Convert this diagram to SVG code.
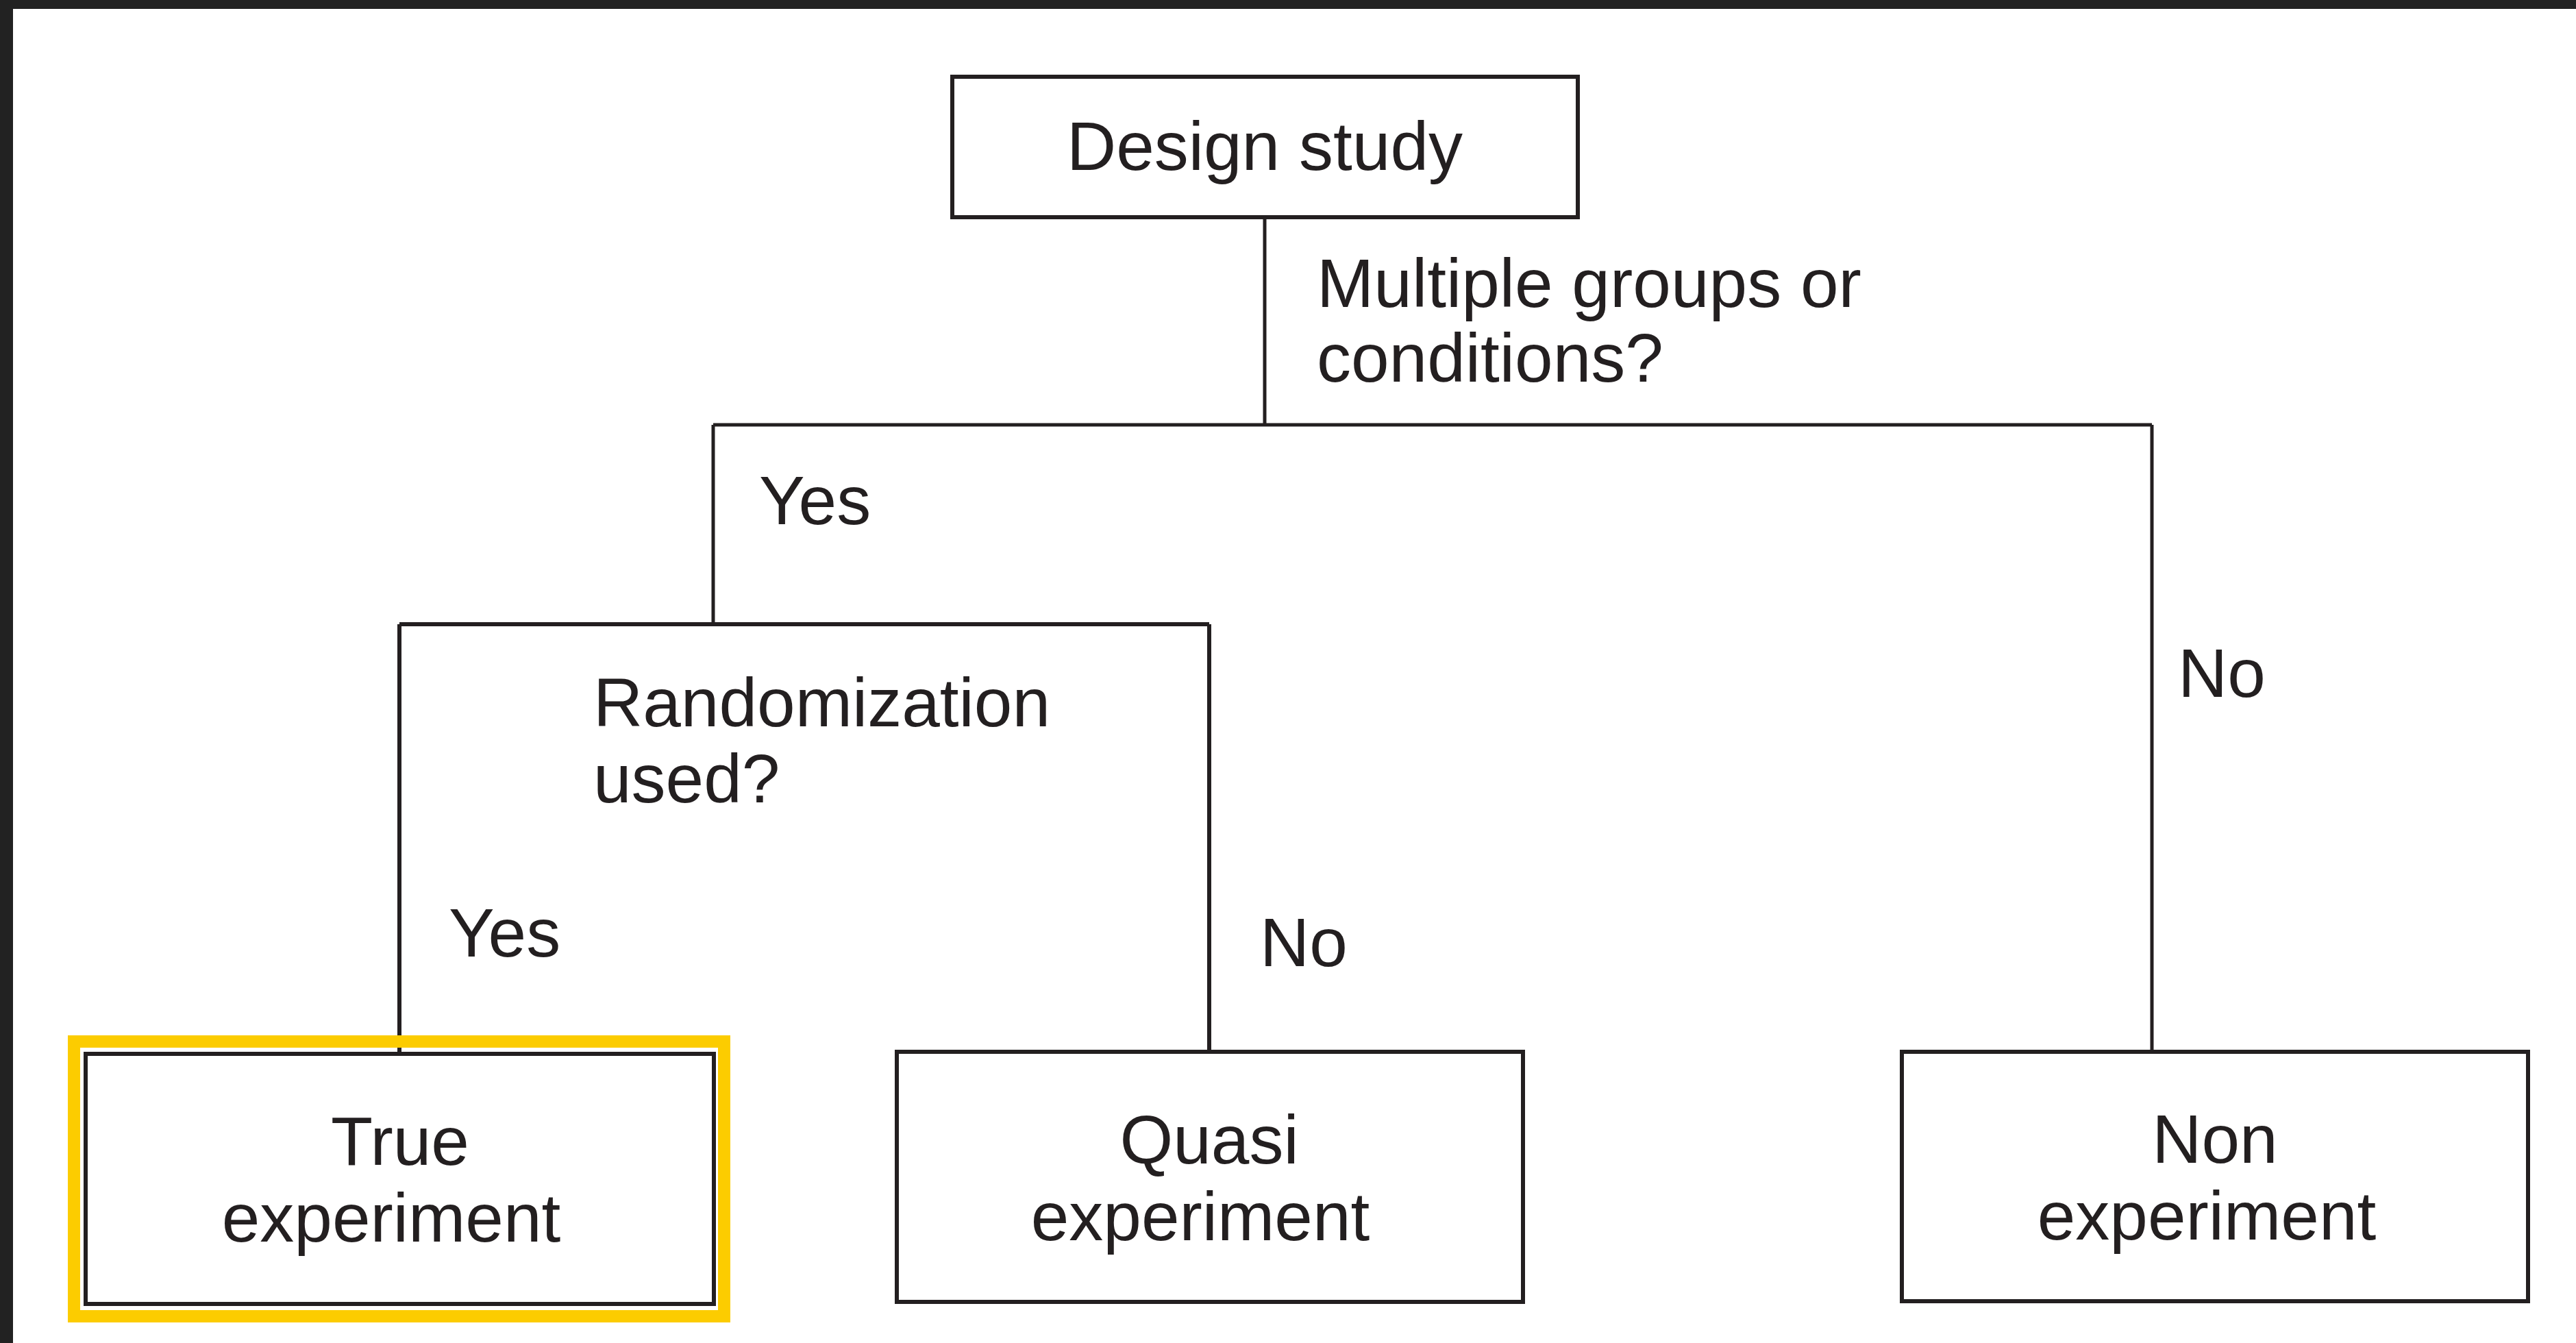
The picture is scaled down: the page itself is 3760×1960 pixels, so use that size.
<svg xmlns="http://www.w3.org/2000/svg" width="3760" height="1960" viewBox="0 0 3760 1960">
<style>
.box{fill:#fff;stroke:#231f20;stroke-width:6}
.hl{fill:none;stroke:#fccc00;stroke-width:18}
.ln{fill:none;stroke:#231f20;stroke-width:5}
.t{font-family:"Liberation Sans",Arial,sans-serif;font-size:100px;fill:#231f20}
.c{text-anchor:middle}
</style>
<rect x="0" y="0" width="3760" height="1960" fill="#fff"/>
<rect x="0" y="0" width="3760" height="13" fill="#222"/>
<rect x="0" y="0" width="19" height="1960" fill="#222"/>
<g id="connectors">
<path class="ln" d="M1846 320 V620 M1041 620 H3141 M1041 620 V911 M3141 620 V1532"/>
<path class="ln" d="M583 911 H1765 M583 911 V1535 M1765 911 V1532" style="stroke-width:6"/>
<text class="t" x="1922" y="448">Multiple groups or</text>
<text class="t" x="1922" y="557">conditions?</text>
<text class="t" x="1108" y="765">Yes</text>
<text class="t" x="3179" y="1017">No</text>
<text class="t" x="655" y="1396">Yes</text>
<text class="t" x="1839" y="1410">No</text>
</g>
<g id="design-study">
<rect class="box" x="1390" y="112" width="913" height="205"/>
<text class="t c" x="1846" y="248">Design study</text>
</g>
<g id="randomization">
<text class="t" x="866" y="1060">Randomization</text>
<text class="t" x="866" y="1171">used?</text>
</g>
<g id="true-experiment">
<rect class="hl" x="108" y="1520" width="949" height="401"/>
<rect class="box" x="125" y="1538" width="917" height="365"/>
<text class="t c" x="584" y="1700">True</text>
<text class="t c" x="571" y="1812">experiment</text>
</g>
<g id="quasi-experiment">
<rect class="box" x="1309" y="1535" width="914" height="365"/>
<text class="t c" x="1765" y="1698">Quasi</text>
<text class="t c" x="1752" y="1810">experiment</text>
</g>
<g id="non-experiment">
<rect class="box" x="2776" y="1535" width="914" height="364"/>
<text class="t c" x="3233" y="1697">Non</text>
<text class="t c" x="3221" y="1809">experiment</text>
</g>
</svg>
